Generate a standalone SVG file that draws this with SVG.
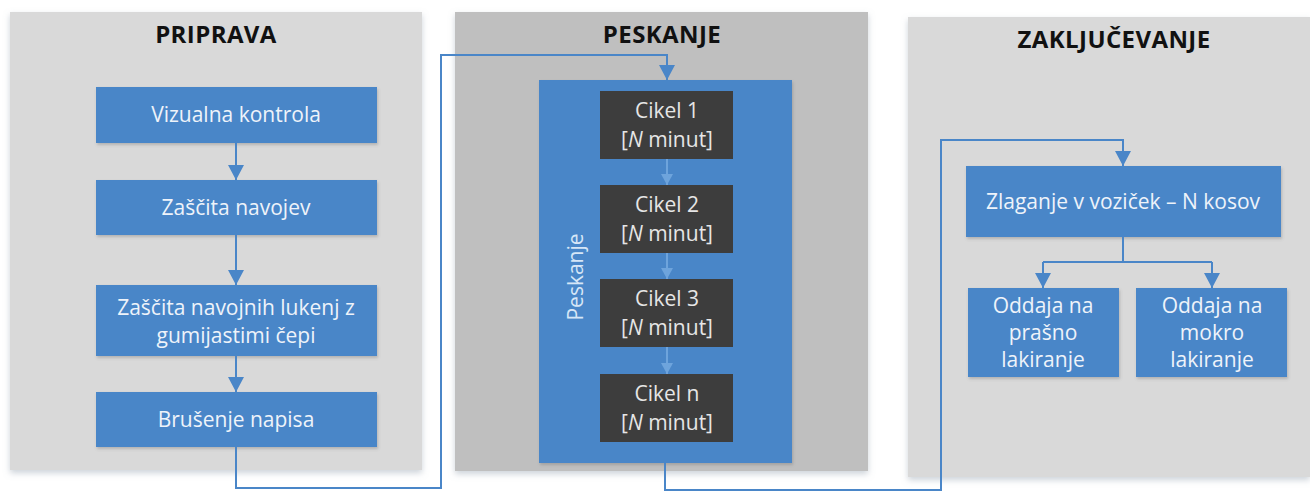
<svg xmlns="http://www.w3.org/2000/svg" width="1310" height="493" viewBox="0 0 1310 493">
  <defs>
    <style>
      .panel-light { fill: #d9d9d9; }
      .panel-dark { fill: #bfbfbf; }
      .title { font-family: "Open Sans", "Liberation Sans", sans-serif; font-weight: 700; font-size: 24px; letter-spacing: 0.4px; fill: #111111; text-anchor: middle; }
      .box { fill: #4a86c8; }
      .cycle { fill: #3d3d3d; }
      .label { font-family: "Open Sans", "Liberation Sans", sans-serif; font-size: 21px; fill: #eef3fa; text-anchor: middle; }
      .clabel { font-family: "Open Sans", "Liberation Sans", sans-serif; font-size: 21px; fill: #e6e6e6; text-anchor: middle; }
      .vlabel { font-family: "Open Sans", "Liberation Sans", sans-serif; font-size: 21px; fill: #d6e6f7; text-anchor: middle; }
      .wire { fill: none; stroke: #4a86c8; stroke-width: 2; }
      .wire-faint { fill: none; stroke: #6ea4dc; stroke-width: 2; }
    </style>
    <marker id="head" markerUnits="userSpaceOnUse" markerWidth="16" markerHeight="16" viewBox="0 0 15 15" refX="14" refY="7.5" orient="auto">
      <path d="M0,0 L14,7.5 L0,15 Z" fill="#4a86c8"/>
    </marker>
    <marker id="head-faint" markerUnits="userSpaceOnUse" markerWidth="12" markerHeight="12" viewBox="0 0 12 12" refX="11" refY="6" orient="auto">
      <path d="M0,0 L11,6 L0,12 Z" fill="#6ea4dc"/>
    </marker>
    <filter id="shadow" x="-5%" y="-5%" width="110%" height="112%">
      <feDropShadow dx="0" dy="3" stdDeviation="3" flood-color="#9aa6b4" flood-opacity="0.5"/>
    </filter>
    <filter id="softshadow" x="-5%" y="-10%" width="110%" height="130%">
      <feDropShadow dx="1" dy="2" stdDeviation="1.5" flood-color="#6b6b6b" flood-opacity="0.35"/>
    </filter>
  </defs>

  <rect width="1310" height="493" fill="#ffffff"/>

  <!-- Phase 1: preparation -->
  <g id="pripravaPanel">
    <rect class="panel-light" x="10" y="12" width="412" height="458" filter="url(#shadow)"/>
    <text class="title" x="216" y="43">PRIPRAVA</text>
  </g>

  <!-- Phase 2: sandblasting -->
  <g id="peskanjePanel">
    <rect class="panel-dark" x="455" y="12" width="413" height="459" filter="url(#shadow)"/>
    <text class="title" x="662" y="43">PESKANJE</text>
  </g>

  <!-- Phase 3: finishing -->
  <g id="zakljucevanjePanel">
    <rect class="panel-light" x="908" y="17" width="402" height="460" filter="url(#shadow)"/>
    <text class="title" x="1114" y="48">ZAKLJUČEVANJE</text>
  </g>

  <!-- Preparation steps -->
  <g id="vizualnaKontrola">
    <rect class="box" x="96" y="87" width="281" height="56" filter="url(#softshadow)"/>
    <text class="label" x="236" y="122">Vizualna kontrola</text>
  </g>
  <g id="zascitaNavojev">
    <rect class="box" x="96" y="180" width="281" height="55" filter="url(#softshadow)"/>
    <text class="label" x="236" y="215">Zaščita navojev</text>
  </g>
  <g id="zascitaLukenj">
    <rect class="box" x="96" y="285" width="281" height="71" filter="url(#softshadow)"/>
    <text class="label" x="236" y="315">Zaščita navojnih lukenj z</text>
    <text class="label" x="236" y="343">gumijastimi čepi</text>
  </g>
  <g id="brusenjeNapisa">
    <rect class="box" x="96" y="392" width="281" height="55" filter="url(#softshadow)"/>
    <text class="label" x="236" y="427">Brušenje napisa</text>
  </g>

  <!-- Sandblasting container with cycles -->
  <g id="peskanjeContainer">
    <rect class="box" x="539" y="80" width="253" height="383" filter="url(#softshadow)"/>
    <text class="vlabel" transform="translate(583 277) rotate(-90)">Peskanje</text>
  </g>
  <g id="cikel1">
    <rect class="cycle" x="600" y="91" width="133" height="68"/>
    <text class="clabel" x="667" y="118">Cikel 1</text>
    <text class="clabel" x="667" y="147">[<tspan font-style="italic">N</tspan> minut]</text>
  </g>
  <g id="cikel2">
    <rect class="cycle" x="600" y="185" width="133" height="68"/>
    <text class="clabel" x="667" y="212">Cikel 2</text>
    <text class="clabel" x="667" y="241">[<tspan font-style="italic">N</tspan> minut]</text>
  </g>
  <g id="cikel3">
    <rect class="cycle" x="600" y="279" width="133" height="68"/>
    <text class="clabel" x="667" y="306">Cikel 3</text>
    <text class="clabel" x="667" y="335">[<tspan font-style="italic">N</tspan> minut]</text>
  </g>
  <g id="cikelN">
    <rect class="cycle" x="600" y="374" width="133" height="68"/>
    <text class="clabel" x="667" y="401">Cikel n</text>
    <text class="clabel" x="667" y="430">[<tspan font-style="italic">N</tspan> minut]</text>
  </g>

  <!-- Finishing steps -->
  <g id="zlaganje">
    <rect class="box" x="966" y="166" width="315" height="71" filter="url(#softshadow)"/>
    <text class="label" x="1123" y="209">Zlaganje v voziček – N kosov</text>
  </g>
  <g id="oddajaPrasno">
    <rect class="box" x="968" y="288" width="151" height="89" filter="url(#softshadow)"/>
    <text class="label" x="1043" y="313">Oddaja na</text>
    <text class="label" x="1043" y="340">prašno</text>
    <text class="label" x="1043" y="367">lakiranje</text>
  </g>
  <g id="oddajaMokro">
    <rect class="box" x="1136" y="288" width="151" height="89" filter="url(#softshadow)"/>
    <text class="label" x="1212" y="313">Oddaja na</text>
    <text class="label" x="1212" y="340">mokro</text>
    <text class="label" x="1212" y="367">lakiranje</text>
  </g>

  <!-- Connectors -->
  <g id="connectors">
    <path class="wire" d="M236,143 V180" marker-end="url(#head)"/>
    <path class="wire" d="M236,235 V285" marker-end="url(#head)"/>
    <path class="wire" d="M236,356 V392" marker-end="url(#head)"/>
    <path class="wire" d="M236,447 V488 H441 V55 H667 V80" marker-end="url(#head)"/>

    <path class="wire-faint" d="M667,159 V185" marker-end="url(#head-faint)"/>
    <path class="wire-faint" d="M667,253 V279" marker-end="url(#head-faint)"/>
    <path class="wire-faint" d="M667,347 V374" marker-end="url(#head-faint)"/>

    <path class="wire" d="M665,463 V490 H941 V140 H1123 V166" marker-end="url(#head)"/>

    <path class="wire" d="M1123,237 V262"/>
    <path class="wire" d="M1043,262 H1212"/>
    <path class="wire" d="M1043,262 V288" marker-end="url(#head)"/>
    <path class="wire" d="M1212,262 V288" marker-end="url(#head)"/>
  </g>
</svg>
